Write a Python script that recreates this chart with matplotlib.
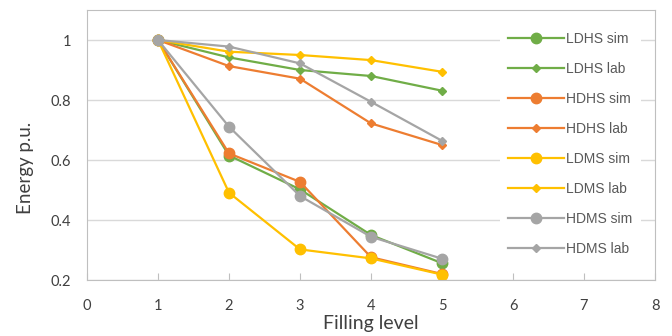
import numpy as np
import matplotlib.pyplot as plt

# filling levels
x = [1, 2, 3, 4, 5]

# energy p.u.
ldhs_sim = [1.0, 0.615, 0.502, 0.350, 0.256]
ldhs_lab = [1.0, 0.942, 0.900, 0.880, 0.831]
hdhs_sim = [1.0, 0.622, 0.527, 0.276, 0.220]
hdhs_lab = [1.0, 0.913, 0.871, 0.722, 0.650]
ldms_sim = [1.0, 0.491, 0.302, 0.272, 0.218]
ldms_lab = [1.0, 0.961, 0.950, 0.933, 0.894]
hdms_sim = [1.0, 0.711, 0.480, 0.344, 0.271]
hdms_lab = [1.0, 0.978, 0.922, 0.794, 0.664]

green = '#70AD47'
orange = '#ED7D31'
yellow = '#FFC000'
grey = '#A5A5A5'

fig = plt.figure(figsize=(6.72, 3.36), dpi=100)
ax = fig.add_axes([87/672, 1-280/336, (655-87)/672, 270/336])

series = [
    ('LDHS sim', ldhs_sim, green, 'o'),
    ('LDHS lab', ldhs_lab, green, 'D'),
    ('HDHS sim', hdhs_sim, orange, 'o'),
    ('HDHS lab', hdhs_lab, orange, 'D'),
    ('LDMS sim', ldms_sim, yellow, 'o'),
    ('LDMS lab', ldms_lab, yellow, 'D'),
    ('HDMS sim', hdms_sim, grey, 'o'),
    ('HDMS lab', hdms_lab, grey, 'D'),
]
for name, vals, c, m in series:
    ms = 7.5 if m == 'o' else 4.5
    ax.plot(x, vals, color=c, marker=m, markersize=ms, linewidth=1.6, label=name)

ax.set_xlim(0, 8)
ax.set_ylim(0.2, 1.1)
ax.set_xticks(range(0, 9))
ax.set_yticks([0.2, 0.4, 0.6, 0.8, 1.0])
ax.set_yticklabels(['0.2', '0.4', '0.6', '0.8', '1'])
ax.yaxis.grid(True, color='#D9D9D9', linewidth=1)
ax.set_axisbelow(True)
for s in ax.spines.values():
    s.set_color('#BFBFBF')
ax.tick_params(axis='x', direction='in', length=5, color='#BFBFBF', pad=14,
               labelsize=10.5, labelcolor='#404040')
ax.tick_params(axis='y', length=0, pad=11.5, labelsize=10.5, labelcolor='#404040')
for lbl in ax.get_xticklabels() + ax.get_yticklabels():
    lbl.set_family('Lato')
ax.set_xlabel('Filling level', fontsize=14, family='Lato', color='#404040', labelpad=1)
ax.set_ylabel('Energy p.u.', fontsize=13.5, family='Lato', color='#404040')
ax.yaxis.set_label_coords(34/672, 0.5, transform=fig.transFigure)

leg = ax.legend(loc='upper left', bbox_to_anchor=(493/672, 1-17/336),
                bbox_transform=fig.transFigure, frameon=True, fancybox=False,
                handlelength=4.0, handletextpad=0.15, labelspacing=1.15,
                prop={'family': 'Liberation Sans', 'size': 10}, borderpad=0.6)
leg.get_frame().set_edgecolor('none')
leg.get_frame().set_facecolor('white')
leg.get_frame().set_alpha(1)
for t in leg.get_texts():
    t.set_color('#595959')

fig.savefig('out.png', dpi=100)
